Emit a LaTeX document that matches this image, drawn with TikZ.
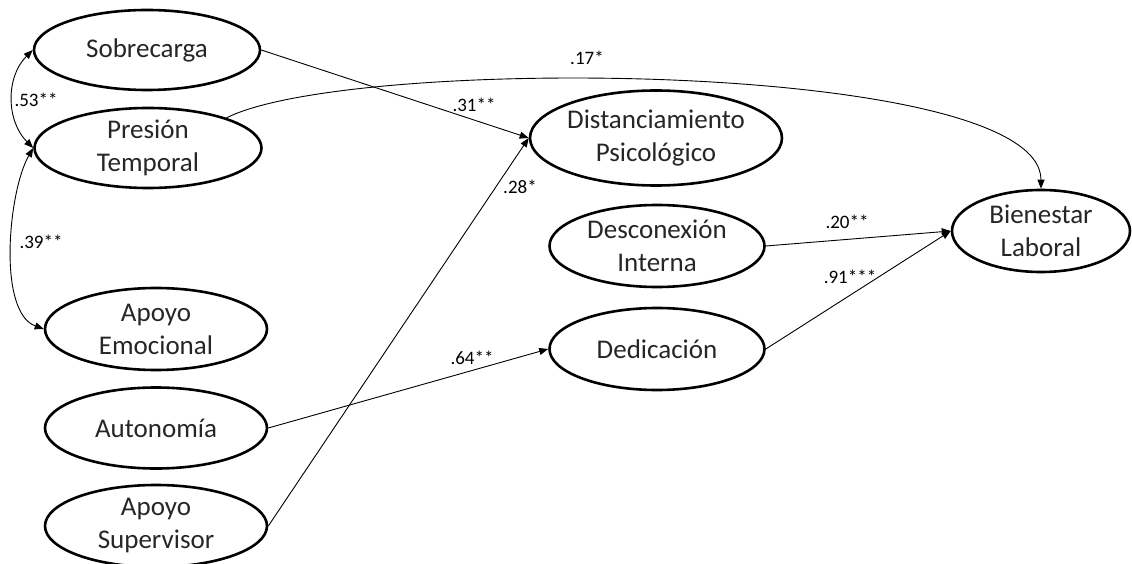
\documentclass[tikz,border=0pt]{standalone}
\usepackage{fontspec}
\setmainfont{Carlito}
\usetikzlibrary{arrows.meta, shapes.geometric}

\begin{document}
\begin{tikzpicture}[x=1pt, y=1pt,
  latent/.style={ellipse, draw, line width=2.6pt, inner sep=0pt, align=center,
    text=black!85, font=\fontsize{27}{33}\selectfont},
  effect/.style={-{Triangle[length=9pt,width=7pt]}, line width=0.9pt},
  covar/.style={{Triangle[length=9pt,width=7pt]}-{Triangle[length=9pt,width=7pt]}, line width=0.9pt},
  coef/.style={font=\fontsize{19}{21}\selectfont}]

  \useasboundingbox (0,0) rectangle (1132,-564);

  % predictors
  \node[latent, minimum width=226, minimum height=80] (sob) at (147,-50) {Sobrecarga};
  \node[latent, minimum width=227, minimum height=80] (pres) at (148,-148) {Presión\\Temporal};
  \node[latent, minimum width=222, minimum height=82] (apem) at (156,-329) {Apoyo\\Emocional};
  \node[latent, minimum width=222, minimum height=81] (auto) at (156,-428) {Autonomía};
  \node[latent, minimum width=222, minimum height=82] (apsup) at (156,-526) {Apoyo\\Supervisor};

  % mediators
  \node[latent, minimum width=252, minimum height=95] (dist) at (656,-138) {Distanciamiento\\Psicológico};
  \node[latent, minimum width=215, minimum height=82] (desc) at (657,-246) {Desconexión\\Interna};
  \node[latent, minimum width=215, minimum height=82] (ded) at (657,-349) {Dedicación};

  % outcome
  \node[latent, minimum width=178, minimum height=82] (bien) at (1041,-231) {Bienestar\\Laboral};

  % paths
  \draw[effect] (sob.east) -- (dist.west);
  \draw[effect] (apsup.east) -- (dist.west);
  \draw[effect] (auto.east) -- (ded.west);
  \draw[effect] (desc.east) -- (bien.west);
  \draw[effect] (ded.east) -- (bien.west);
  \draw[effect] (pres.21) .. controls (350,-55) and (1041,-60) .. (bien.north);

  % covariances
  \draw[covar] (sob.west) to[out=225, in=135] (pres.west);
  \draw[covar] (pres.west) to[out=240, in=160, looseness=0.7] (apem.west);

  % coefficients
  \node[coef] (c17) at (587,-58) {.17*};
  \node[coef] (c31) at (474,-105) {.31**};
  \node[coef] (c28) at (520,-187) {.28*};
  \node[coef] (c64) at (472,-358) {.64**};
  \node[coef] (c20) at (847,-222) {.20**};
  \node[coef] (c91) at (850,-277) {.91***};
  \node[coef] (c53) at (36,-100) {.53**};
  \node[coef] (c39) at (41,-242) {.39**};
\end{tikzpicture}
\end{document}
